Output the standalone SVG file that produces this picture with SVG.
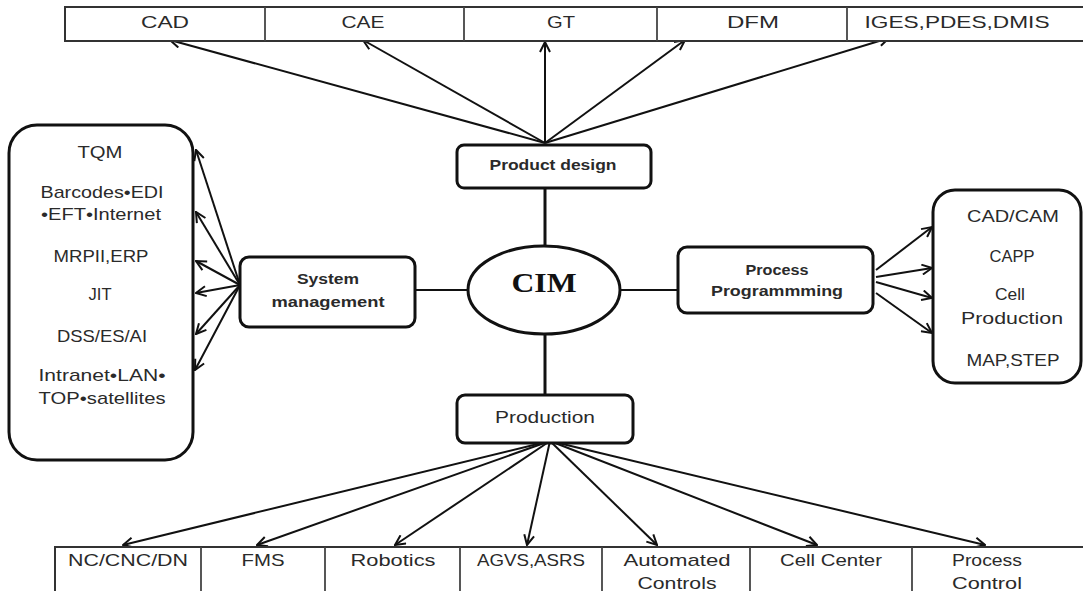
<svg xmlns="http://www.w3.org/2000/svg" width="1083" height="591" viewBox="0 0 1083 591">
<defs>
<marker id="ah" viewBox="0 0 12 12" refX="11" refY="6" markerWidth="12" markerHeight="12" markerUnits="userSpaceOnUse" orient="auto">
<path d="M1,1 L11,6 L1,11" fill="none" stroke="#111" stroke-width="2"/>
</marker>
<style>
.bar{fill:#fff;stroke:#333;stroke-width:2}
.div{stroke:#444;stroke-width:1.8}
.box{fill:#fff;stroke:#111;stroke-width:3}
.t{font-family:"Liberation Sans",Arial,sans-serif;font-size:17px;fill:#2a2a2a;text-anchor:middle}
.b{font-family:"Liberation Sans",Arial,sans-serif;font-size:14px;font-weight:bold;fill:#2a2a2a;text-anchor:middle}
.cim{font-family:"Liberation Serif","Times New Roman",serif;font-size:28px;font-weight:bold;fill:#111;text-anchor:middle}
.c{stroke:#111;stroke-width:2;fill:none}
.a{stroke:#111;stroke-width:2;fill:none;marker-end:url(#ah)}
.l{stroke:#111;stroke-width:3;fill:none}
</style>
</defs>
<rect width="1083" height="591" fill="#fff"/>

<g id="connectors">
<line class="l" x1="545" y1="188" x2="545" y2="247"/>
<line class="l" x1="545" y1="334" x2="545" y2="395"/>
<line class="c" x1="415" y1="290" x2="468" y2="290"/>
<line class="c" x1="620" y1="290" x2="678" y2="290"/>
<line class="a" x1="545" y1="143" x2="170" y2="40"/>
<line class="a" x1="545" y1="143" x2="363" y2="40"/>
<line class="a" x1="545" y1="143" x2="545" y2="42"/>
<line class="a" x1="545" y1="143" x2="685" y2="40"/>
<line class="a" x1="545" y1="143" x2="889" y2="38"/>
<line class="a" x1="240" y1="285" x2="196" y2="150"/>
<line class="a" x1="240" y1="285" x2="196" y2="212"/>
<line class="a" x1="240" y1="285" x2="196" y2="261"/>
<line class="a" x1="240" y1="285" x2="196" y2="293"/>
<line class="a" x1="240" y1="285" x2="196" y2="334"/>
<line class="a" x1="240" y1="285" x2="195" y2="370"/>
<line class="a" x1="876" y1="270" x2="932" y2="227"/>
<line class="a" x1="876" y1="277" x2="932" y2="268"/>
<line class="a" x1="876" y1="282" x2="932" y2="298"/>
<line class="a" x1="876" y1="293" x2="932" y2="333"/>
<line class="a" x1="550" y1="441" x2="123" y2="545"/>
<line class="a" x1="550" y1="441" x2="257" y2="545"/>
<line class="a" x1="550" y1="441" x2="395" y2="545"/>
<line class="a" x1="550" y1="441" x2="527" y2="545"/>
<line class="a" x1="550" y1="441" x2="657" y2="545"/>
<line class="a" x1="550" y1="441" x2="817" y2="545"/>
<line class="a" x1="550" y1="441" x2="985" y2="545"/>
</g>

<g id="top-bar">
<rect class="bar" x="65" y="7" width="1030" height="34"/>
<line class="div" x1="265" y1="7" x2="265" y2="41"/>
<line class="div" x1="464" y1="7" x2="464" y2="41"/>
<line class="div" x1="657" y1="7" x2="657" y2="41"/>
<line class="div" x1="847" y1="7" x2="847" y2="41"/>
</g>
<g id="cad"><text class="t" x="165" y="28" textLength="48" lengthAdjust="spacingAndGlyphs">CAD</text></g>
<g id="cae"><text class="t" x="363" y="28" textLength="43" lengthAdjust="spacingAndGlyphs">CAE</text></g>
<g id="gt"><text class="t" x="561" y="28" textLength="28" lengthAdjust="spacingAndGlyphs">GT</text></g>
<g id="dfm"><text class="t" x="753" y="28" textLength="52" lengthAdjust="spacingAndGlyphs">DFM</text></g>
<g id="iges"><text class="t" x="957" y="28" textLength="185" lengthAdjust="spacingAndGlyphs">IGES,PDES,DMIS</text></g>

<g id="product-design">
<rect class="box" x="457" y="145" width="194" height="43" rx="7"/>
<text class="b" x="553" y="170" textLength="127" lengthAdjust="spacingAndGlyphs">Product design</text>
</g>

<g id="cim">
<ellipse cx="544" cy="290" rx="76" ry="44" fill="#fff" stroke="#111" stroke-width="3"/>
<text class="cim" x="544" y="292" textLength="65" lengthAdjust="spacingAndGlyphs">CIM</text>
</g>

<g id="system-management">
<rect class="box" x="240" y="257" width="175" height="70" rx="9"/>
<text class="b" x="328" y="284" textLength="62" lengthAdjust="spacingAndGlyphs">System</text>
<text class="b" x="328" y="307" textLength="113" lengthAdjust="spacingAndGlyphs">management</text>
</g>

<g id="system-list">
<rect class="box" x="9" y="125" width="184" height="335" rx="28"/>
<text class="t" x="100" y="158" textLength="45" lengthAdjust="spacingAndGlyphs">TQM</text>
<text class="t" x="102" y="198" textLength="123" lengthAdjust="spacingAndGlyphs">Barcodes•EDI</text>
<text class="t" x="101" y="220" textLength="120" lengthAdjust="spacingAndGlyphs">•EFT•Internet</text>
<text class="t" x="101" y="262" textLength="95" lengthAdjust="spacingAndGlyphs">MRPII,ERP</text>
<text class="t" x="100" y="300" textLength="23" lengthAdjust="spacingAndGlyphs">JIT</text>
<text class="t" x="102" y="342" textLength="90" lengthAdjust="spacingAndGlyphs">DSS/ES/AI</text>
<text class="t" x="102" y="381" textLength="127" lengthAdjust="spacingAndGlyphs">Intranet•LAN•</text>
<text class="t" x="102" y="404" textLength="127" lengthAdjust="spacingAndGlyphs">TOP•satellites</text>
</g>

<g id="process-programming">
<rect class="box" x="678" y="247" width="195" height="66" rx="9"/>
<text class="b" x="777" y="275" textLength="63" lengthAdjust="spacingAndGlyphs">Process</text>
<text class="b" x="777" y="296" textLength="132" lengthAdjust="spacingAndGlyphs">Programmming</text>
</g>

<g id="process-list">
<rect class="box" x="933" y="190" width="148" height="193" rx="22"/>
<text class="t" x="1013" y="222" textLength="92" lengthAdjust="spacingAndGlyphs">CAD/CAM</text>
<text class="t" x="1012" y="262" textLength="45" lengthAdjust="spacingAndGlyphs">CAPP</text>
<text class="t" x="1010" y="300" textLength="30" lengthAdjust="spacingAndGlyphs">Cell</text>
<text class="t" x="1012" y="324" textLength="102" lengthAdjust="spacingAndGlyphs">Production</text>
<text class="t" x="1013" y="366" textLength="93" lengthAdjust="spacingAndGlyphs">MAP,STEP</text>
</g>

<g id="production">
<rect class="box" x="457" y="395" width="176" height="48" rx="8"/>
<text class="t" x="545" y="423" textLength="100" lengthAdjust="spacingAndGlyphs">Production</text>
</g>

<g id="bottom-bar">
<rect class="bar" x="55" y="547" width="1040" height="60"/>
<line class="div" x1="201" y1="547" x2="201" y2="591"/>
<line class="div" x1="325" y1="547" x2="325" y2="591"/>
<line class="div" x1="460" y1="547" x2="460" y2="591"/>
<line class="div" x1="602" y1="547" x2="602" y2="591"/>
<line class="div" x1="750" y1="547" x2="750" y2="591"/>
<line class="div" x1="912" y1="547" x2="912" y2="591"/>
</g>
<g id="nc"><text class="t" x="128" y="566" textLength="120" lengthAdjust="spacingAndGlyphs">NC/CNC/DN</text></g>
<g id="fms"><text class="t" x="263" y="566" textLength="43" lengthAdjust="spacingAndGlyphs">FMS</text></g>
<g id="robotics"><text class="t" x="393" y="566" textLength="85" lengthAdjust="spacingAndGlyphs">Robotics</text></g>
<g id="agvs"><text class="t" x="531" y="566" textLength="108" lengthAdjust="spacingAndGlyphs">AGVS,ASRS</text></g>
<g id="automated"><text class="t" x="677" y="566" textLength="107" lengthAdjust="spacingAndGlyphs">Automated</text><text class="t" x="677" y="589" textLength="79" lengthAdjust="spacingAndGlyphs">Controls</text></g>
<g id="cell-center"><text class="t" x="831" y="566" textLength="102" lengthAdjust="spacingAndGlyphs">Cell Center</text></g>
<g id="process-control"><text class="t" x="987" y="566" textLength="70" lengthAdjust="spacingAndGlyphs">Process</text><text class="t" x="987" y="589" textLength="70" lengthAdjust="spacingAndGlyphs">Control</text></g>
</svg>
